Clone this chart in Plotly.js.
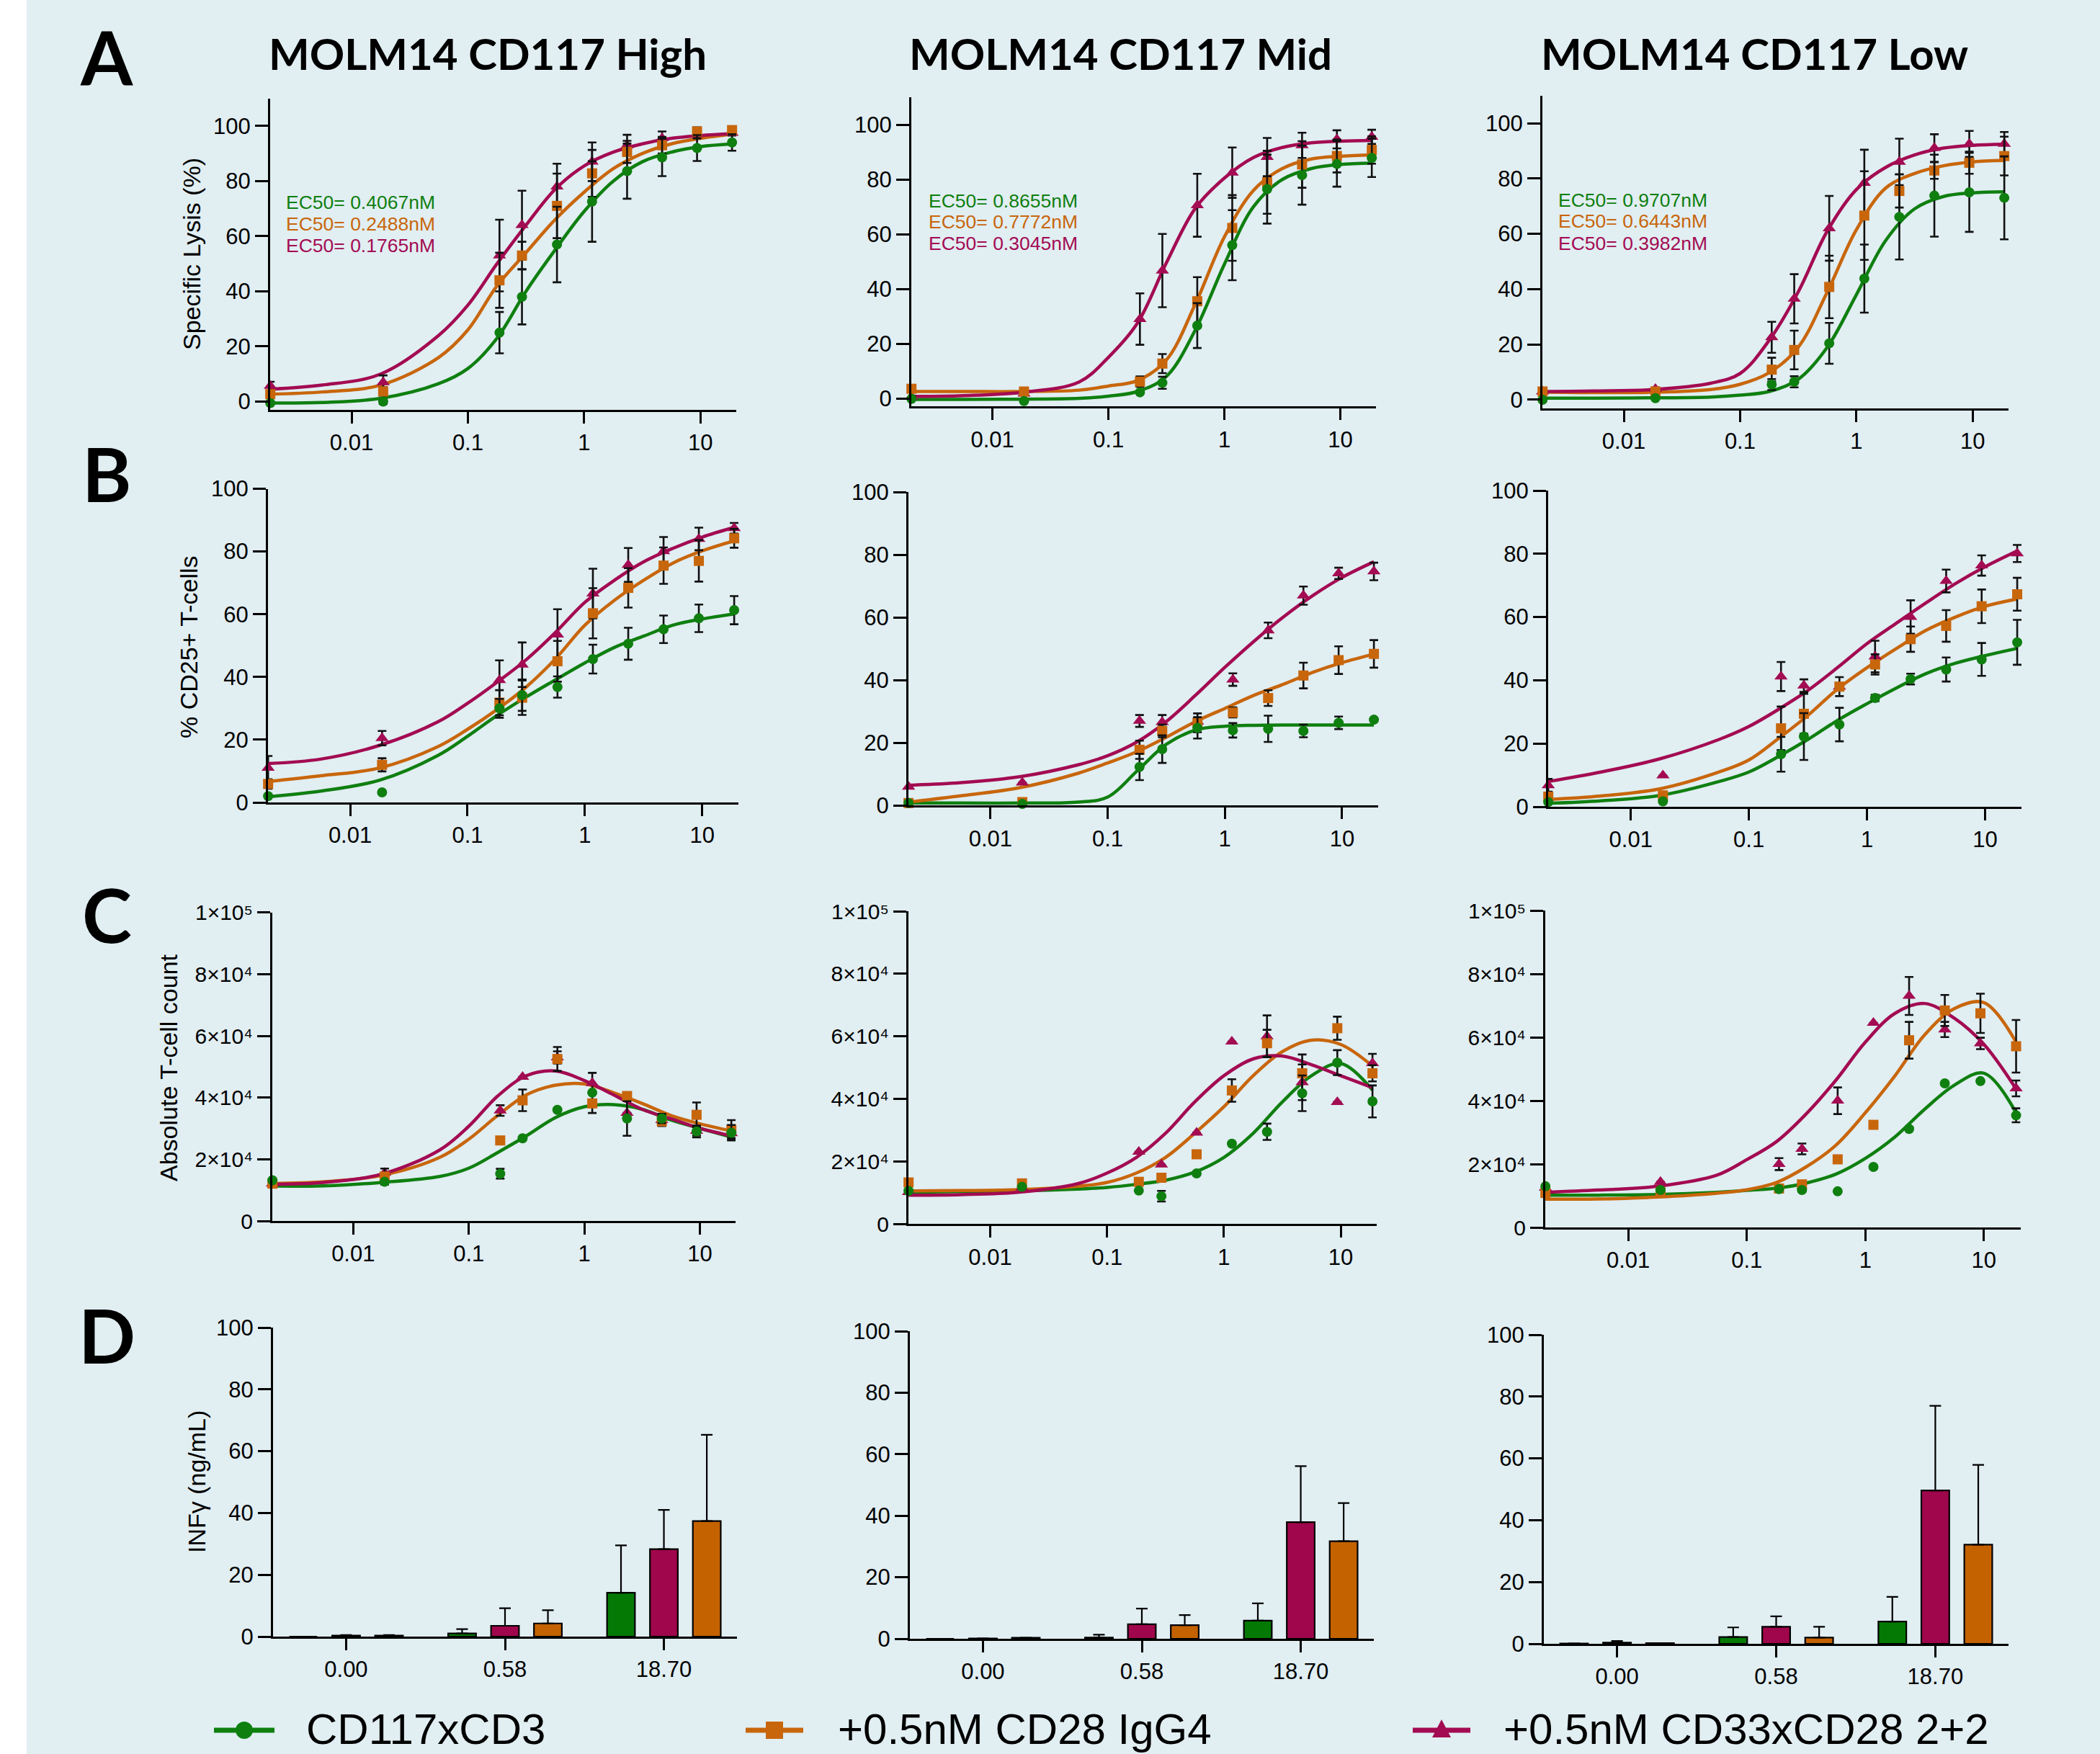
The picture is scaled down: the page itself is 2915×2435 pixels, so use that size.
<!DOCTYPE html>
<html>
<head>
<meta charset="utf-8">
<script src="https://cdn.plot.ly/plotly-3.0.1.min.js"></script>
<style>html,body{margin:0;padding:0;background:#ffffff;}</style>
</head>
<body>
<div id="chart" style="width:2915px;height:2435px;"></div>
<script>
// ---------------- DATA ----------------
const seriesNames = ['CD117xCD3', '+0.5nM CD28 IgG4', '+0.5nM CD33xCD28 2+2'];
const columnTitles = ['MOLM14 CD117 High', 'MOLM14 CD117 Mid', 'MOLM14 CD117 Low'];
const rowLetters = ['A', 'B', 'C', 'D'];
const rowYTitles = ['Specific Lysis (%)', '% CD25+ T-cells', 'Absolute T-cell count', 'INFγ (ng/mL)'];
const ec50High = ['EC50= 0.4067nM', 'EC50= 0.2488nM', 'EC50= 0.1765nM'];
const ec50Mid  = ['EC50= 0.8655nM', 'EC50= 0.7772nM', 'EC50= 0.3045nM'];
const ec50Low  = ['EC50= 0.9707nM', 'EC50= 0.6443nM', 'EC50= 0.3982nM'];

const logTickVals = [0.01, 0.1, 1, 10];
const logTickText = ['0.01', '0.1', '1', '10'];
const pctTickVals = [0, 20, 40, 60, 80, 100];
const pctTickText = ['0', '20', '40', '60', '80', '100'];
const countTickVals = [0, 20000, 40000, 60000, 80000, 100000];
const countTickText = ['0', '2×10⁴', '4×10⁴', '6×10⁴', '8×10⁴', '1×10⁵'];
const ifnCategories = ['0.00', '0.58', '18.70'];

// concentrations (nM) of measured points and of fitted-curve readings
const conc = [0.002, 0.0187, 0.187, 0.292, 0.584, 1.17, 2.34, 4.68, 9.35, 18.7];
const fitConc = [0.002, 0.0056, 0.0178, 0.056, 0.1, 0.178, 0.316, 0.562, 1, 1.78, 3.16, 5.62, 10, 18.7];

// A: Specific lysis (%)
const A_high_cd3 = [-0.5, 0, 25, 38, 57, 72.6, 83.6, 88.6, 92, 94];
const A_high_cd3_sd = [0.5, 0.8, 7.5, 10, 13.7, 14.6, 10, 6.8, 4.7, 3];
const A_high_cd3_fit = [-0.5, -0.3, 1.2, 6.5, 12, 23, 40, 55, 69, 80, 87, 90.5, 92.5, 93.5];
const A_high_igg4 = [2.7, 3.7, 44, 53, 71, 82.8, 90.6, 93, 98, 98.5];
const A_high_igg4_sd = [1, 1.5, 10, 5, 11.7, 8.5, 4, 3, 1.5, 1];
const A_high_igg4_fit = [2.7, 3.5, 6, 16, 26, 42, 54, 66, 76, 84.5, 90, 93.5, 95.5, 97];
const A_high_cd33 = [5.7, 7, 53, 64, 78, 87, 93, 95.5, 97, 97.5];
const A_high_cd33_sd = [1.5, 2.5, 13, 12.5, 8.3, 7, 3.8, 2.5, 1.5, 1];
const A_high_cd33_fit = [4.5, 6, 10, 24, 35, 50, 64, 77, 85.5, 90.5, 93.5, 95.5, 96.5, 97.2];

const A_mid_cd3 = [-0.2, -1, 2.2, 5.7, 26.6, 56, 76.5, 81.6, 85.7, 87.9];
const A_mid_cd3_sd = [0.5, 0.5, 0.5, 2.2, 8.2, 12.8, 12.6, 10.8, 8.3, 7];
const A_mid_cd3_fit = [-0.4, -0.4, -0.3, 0, 0.8, 2.5, 8, 25, 49, 70, 80, 84, 85.5, 86];
const A_mid_igg4 = [3.5, 2.5, 6.1, 12.7, 35.5, 62.3, 79, 85.5, 88.6, 90.8];
const A_mid_igg4_sd = [0.5, 0.5, 1.9, 3.5, 8.8, 12, 11.5, 8.5, 6, 5];
const A_mid_igg4_fit = [2.5, 2.5, 2.5, 3, 4.5, 6.5, 14, 34.5, 59, 76, 84, 87.5, 88.5, 89];
const A_mid_cd33 = [0.5, 1.7, 29, 46.7, 70.6, 82.5, 88.2, 92.5, 94.7, 95.6];
const A_mid_cd33_sd = [0.5, 0.5, 9.4, 13.4, 11.5, 9.2, 7, 4.6, 3.3, 2.6];
const A_mid_cd33_fit = [0.7, 1, 2.2, 6, 15, 27.5, 49.5, 69.5, 80.5, 88, 91.7, 93.4, 94, 94.3];

const A_low_cd3 = [0, 0.6, 5.5, 6.5, 20.4, 43.8, 66.1, 73.8, 75, 73];
const A_low_cd3_sd = [0.5, 0.5, 2, 2, 7.4, 12.3, 15.4, 14.8, 14.3, 15];
const A_low_cd3_fit = [0.6, 0.6, 0.7, 1, 1.7, 3, 7.4, 19, 38, 57.5, 69, 73.5, 74.8, 75.2];
const A_low_igg4 = [3, 3, 10.9, 18, 40.8, 66.6, 75.5, 82.9, 85.7, 88.1];
const A_low_igg4_sd = [0.5, 0.5, 4.3, 7, 11.3, 16, 6, 3, 4, 7];
const A_low_igg4_fit = [2.8, 2.6, 2.7, 3.7, 5.6, 9.8, 19, 39, 61.5, 76.5, 81.8, 84.6, 86, 86.5];
const A_low_cd33 = [3, 3.9, 22.6, 36.5, 62, 78.4, 86, 91, 92.5, 92.5];
const A_low_cd33_sd = [0.5, 0.5, 5.6, 8.9, 11.7, 12, 8.4, 5, 4.7, 4.3];
const A_low_cd33_fit = [3, 3.2, 3.7, 6, 9.5, 21.5, 39, 61, 76, 84, 88.5, 91, 92, 92.4];

// B: % CD25+ T-cells
const B_high_cd3 = [2, 3.2, 30, 34.2, 36.8, 45.7, 50.6, 55.2, 58.7, 61.3];
const B_high_cd3_sd = [0, 0, 3, 5, 3.4, 4.6, 5.1, 4.4, 4.4, 4.5];
const B_high_cd3_fit = [1.8, 3.6, 7.1, 15, 21.1, 27.7, 33.6, 39.1, 44.5, 49.4, 53, 56.5, 58.5, 60.1];
const B_high_igg4 = [5.9, 12, 31.8, 33.4, 45, 60.3, 68.4, 75.5, 77, 84.2];
const B_high_igg4_sd = [1.5, 2.1, 4, 5.5, 6.5, 8, 6.3, 5.8, 6.6, 3];
const B_high_igg4_fit = [6.7, 8.5, 11, 17.8, 23.3, 29.6, 36.8, 45.8, 56.5, 64.4, 70.8, 76.3, 80.2, 83.4];
const B_high_cd33 = [11, 20.5, 39, 43.9, 53.5, 66.6, 75.7, 80.1, 84, 87.4];
const B_high_cd33_sd = [3.8, 2.3, 6.3, 7.1, 8.1, 7.9, 5.4, 4.5, 3.6, 1.7];
const B_high_cd33_fit = [12.4, 13.8, 18.2, 25.7, 31.6, 38.3, 45.5, 54.2, 63.8, 70.8, 76.7, 81, 84.6, 87.7];

const B_mid_cd3 = [0.8, 0.5, 12.3, 18, 24.8, 24, 24.5, 23.8, 26.4, 27.4];
const B_mid_cd3_sd = [0, 0, 4.2, 4.4, 3.4, 2.3, 4.2, 2, 2, 0];
const B_mid_cd3_fit = [0.8, 0.8, 0.8, 1.1, 2.7, 11, 19.5, 24.1, 25.3, 25.6, 25.7, 25.7, 25.7, 25.7];
const B_mid_igg4 = [0.8, 1.1, 17.8, 23.8, 26.4, 29.7, 34.3, 41.5, 46.4, 48.4];
const B_mid_igg4_sd = [0, 0, 2.9, 2, 3, 1.6, 2.5, 4.1, 4.4, 4.4];
const B_mid_igg4_fit = [1.1, 3.1, 5.7, 10.3, 13.6, 17.2, 21.8, 26.8, 31, 35.2, 38.7, 42.5, 45.6, 48.3];
const B_mid_cd33 = [6, 7.3, 27, 26.6, 26.8, 40.2, 55.9, 67, 74.1, 74.7];
const B_mid_cd33_sd = [0, 0, 1.9, 2.3, 1, 2, 2.5, 2.9, 1.8, 2.8];
const B_mid_cd33_fit = [6.5, 7.3, 9.2, 13, 15.9, 20.3, 26.8, 35.2, 44.1, 52.5, 60.2, 67, 72.8, 77.8];

const B_low_cd3 = [1.5, 1.7, 16.6, 22.2, 26, 34.4, 40.4, 43.4, 46.6, 52];
const B_low_cd3_sd = [0, 0, 5.5, 7.4, 5.3, 1, 1.7, 3.8, 5.2, 7.1];
const B_low_cd3_fit = [1.1, 1.9, 3.6, 8, 11, 15.9, 21.3, 27.3, 32.6, 37.6, 42.1, 45.4, 47.8, 50.1];
const B_low_igg4 = [3.2, 3.6, 24.8, 29.4, 38, 45, 53, 57.2, 63.4, 67.2];
const B_low_igg4_sd = [0, 0, 6.9, 6.3, 3, 3.2, 4, 5, 5.3, 5.2];
const B_low_igg4_fit = [2.3, 3.4, 5.7, 11, 14.8, 21.6, 28.9, 37.2, 44, 50.1, 55.8, 60, 63.4, 65.7];
const B_low_cd33 = [6.8, 9.9, 41.2, 38.3, 38, 47.5, 60, 71.4, 76.3, 80.1];
const B_low_cd33_sd = [2, 0, 4.6, 2, 1, 5, 5.3, 3.6, 3.2, 2.7];
const B_low_cd33_fit = [8, 11, 15.2, 21.3, 25.4, 30.8, 36.8, 44, 51.6, 58.1, 64.5, 70.6, 75.9, 80.9];

// C: Absolute T-cell count
const C_high_cd3 = [13200, 12700, 15300, 26800, 36000, 41600, 33200, 33200, 29000, 28600];
const C_high_cd3_sd = [0, 0, 1600, 0, 0, 0, 5600, 1500, 1900, 2500];
const C_high_cd3_fit = [11300, 11400, 12500, 14400, 17100, 22200, 27600, 33500, 37000, 37700, 36200, 32700, 30000, 27200];
const C_high_igg4 = [12100, 14400, 26100, 39100, 52500, 38100, 40500, 32300, 34400, 29600];
const C_high_igg4_sd = [0, 2600, 0, 3500, 3900, 3100, 0, 1500, 4000, 3100];
const C_high_igg4_fit = [12100, 12700, 14800, 20600, 26500, 34200, 40900, 44000, 44400, 41600, 38100, 34200, 31500, 29200];
const C_high_cd33 = [12100, 15600, 35800, 46700, 53000, 44700, 35000, 32700, 29200, 28400];
const C_high_cd33_sd = [0, 0, 1700, 0, 2000, 3300, 0, 1500, 1500, 1500];
const C_high_cd33_fit = [11900, 12500, 15200, 23000, 30700, 40500, 47100, 48600, 45500, 40900, 36200, 33100, 30000, 27600];

const C_mid_cd3 = [10600, 11900, 10700, 8900, 16200, 25700, 29500, 41800, 51600, 39200];
const C_mid_cd3_sd = [0, 0, 0, 1700, 0, 0, 2600, 5700, 4000, 5100];
const C_mid_cd3_fit = [10200, 10400, 10600, 11200, 11700, 12700, 14000, 16600, 21300, 29000, 39000, 47400, 51300, 42800];
const C_mid_igg4 = [13300, 13000, 13500, 14800, 22300, 42700, 57800, 48200, 62600, 48200];
const C_mid_igg4_sd = [0, 0, 0, 0, 0, 3600, 4300, 6000, 3700, 2600];
const C_mid_igg4_fit = [10600, 10700, 11000, 12100, 13300, 16300, 21300, 29000, 37500, 47400, 55100, 58800, 57400, 50500];
const C_mid_cd33 = [10200, 11700, 23100, 19000, 29200, 58300, 60000, 45300, 39000, 51400];
const C_mid_cd33_sd = [0, 0, 0, 0, 0, 0, 6700, 5700, 0, 3000];
const C_mid_cd33_fit = [9200, 9400, 10200, 12900, 16300, 21300, 29000, 39000, 47400, 52800, 53700, 50900, 47400, 43600];

const C_low_cd3 = [13000, 11800, 12100, 11800, 11400, 19100, 31100, 45500, 46200, 35400];
const C_low_cd3_sd = [0, 0, 0, 0, 0, 0, 0, 0, 0, 2200];
const C_low_cd3_fit = [10200, 10200, 10400, 11100, 11700, 12400, 14000, 16800, 21800, 28600, 37300, 44900, 48700, 36200];
const C_low_igg4 = [10900, 11100, 12300, 13600, 21500, 32400, 59100, 68500, 67600, 57200];
const C_low_igg4_sd = [0, 0, 0, 0, 0, 0, 5800, 4900, 6200, 8300];
const C_low_igg4_fit = [8900, 9000, 9600, 10800, 11900, 14200, 19100, 25900, 36200, 47900, 60800, 69100, 71000, 58500];
const C_low_cd33 = [12500, 14400, 20000, 24800, 40000, 64600, 73100, 62500, 58100, 43900];
const C_low_cd33_sd = [0, 0, 1900, 1700, 4200, 0, 6000, 2400, 1800, 2500];
const C_low_cd33_fit = [11100, 11800, 13000, 16500, 21400, 27100, 35800, 46400, 58500, 67600, 70700, 66100, 57800, 43700];

// D: IFN-gamma (ng/mL) at 0.00, 0.58, 18.70 nM
const D_high_cd3 = [0, 1.0, 14.2];   const D_high_cd3_sd = [0, 1.4, 15.3];
const D_high_cd33 = [0.3, 3.5, 28.3]; const D_high_cd33_sd = [0.2, 5.7, 12.7];
const D_high_igg4 = [0.3, 4.25, 37.4]; const D_high_igg4_sd = [0.2, 4.3, 27.9];
const D_mid_cd3 = [0, 0.4, 5.9];     const D_mid_cd3_sd = [0, 0.9, 5.6];
const D_mid_cd33 = [0.1, 4.7, 37.9];  const D_mid_cd33_sd = [0, 5.1, 18.2];
const D_mid_igg4 = [0.3, 4.4, 31.7];  const D_mid_igg4_sd = [0, 3.3, 12.4];
const D_low_cd3 = [0.1, 2.2, 7.2];    const D_low_cd3_sd = [0, 3.1, 8];
const D_low_cd33 = [0.4, 5.5, 49.6];  const D_low_cd33_sd = [0.5, 3.4, 27.4];
const D_low_igg4 = [0.2, 2, 32.1];    const D_low_igg4_sd = [0, 3.5, 25.8];

// ---------------- STYLE / LAYOUT ----------------
const W = 2915, H = 2435;
const GREEN = '#0f7f10', ORANGE = '#c8660c', MAGENTA = '#a30b52';
const BAR_GREEN = '#047a04', BAR_ORANGE = '#c46200', BAR_MAGENTA = '#a0064c';
const BG = '#e1eef2';
const AXF = 'Liberation Sans, Arial, DejaVu Sans, sans-serif';
const TITLEF = 'Lato, Liberation Sans, sans-serif';

// pixel boxes of the 12 plotting areas: [x0, x1, yTop, yBottom]
const boxes = [
  [375, 1022, 136.6, 569], [1265, 1910, 135.3, 564.4], [2141, 2788, 132.6, 566.5],
  [372, 1025, 678.5, 1114], [1261, 1913, 683.3, 1118.3], [2149, 2806, 681, 1120],
  [378, 1021, 1266.7, 1695], [1261, 1911, 1265, 1699.3], [2145, 2804.5, 1264.3, 1704],
  [379, 1023, 1843, 2272], [1263, 1907, 1848, 2275], [2143, 2788, 1853, 2282]
];

const curvePanels = [
  [A_high_cd3, A_high_cd3_sd, A_high_cd3_fit, A_high_igg4, A_high_igg4_sd, A_high_igg4_fit, A_high_cd33, A_high_cd33_sd, A_high_cd33_fit],
  [A_mid_cd3, A_mid_cd3_sd, A_mid_cd3_fit, A_mid_igg4, A_mid_igg4_sd, A_mid_igg4_fit, A_mid_cd33, A_mid_cd33_sd, A_mid_cd33_fit],
  [A_low_cd3, A_low_cd3_sd, A_low_cd3_fit, A_low_igg4, A_low_igg4_sd, A_low_igg4_fit, A_low_cd33, A_low_cd33_sd, A_low_cd33_fit],
  [B_high_cd3, B_high_cd3_sd, B_high_cd3_fit, B_high_igg4, B_high_igg4_sd, B_high_igg4_fit, B_high_cd33, B_high_cd33_sd, B_high_cd33_fit],
  [B_mid_cd3, B_mid_cd3_sd, B_mid_cd3_fit, B_mid_igg4, B_mid_igg4_sd, B_mid_igg4_fit, B_mid_cd33, B_mid_cd33_sd, B_mid_cd33_fit],
  [B_low_cd3, B_low_cd3_sd, B_low_cd3_fit, B_low_igg4, B_low_igg4_sd, B_low_igg4_fit, B_low_cd33, B_low_cd33_sd, B_low_cd33_fit],
  [C_high_cd3, C_high_cd3_sd, C_high_cd3_fit, C_high_igg4, C_high_igg4_sd, C_high_igg4_fit, C_high_cd33, C_high_cd33_sd, C_high_cd33_fit],
  [C_mid_cd3, C_mid_cd3_sd, C_mid_cd3_fit, C_mid_igg4, C_mid_igg4_sd, C_mid_igg4_fit, C_mid_cd33, C_mid_cd33_sd, C_mid_cd33_fit],
  [C_low_cd3, C_low_cd3_sd, C_low_cd3_fit, C_low_igg4, C_low_igg4_sd, C_low_igg4_fit, C_low_cd33, C_low_cd33_sd, C_low_cd33_fit]
];
const barPanels = [
  [D_high_cd3, D_high_cd3_sd, D_high_cd33, D_high_cd33_sd, D_high_igg4, D_high_igg4_sd],
  [D_mid_cd3, D_mid_cd3_sd, D_mid_cd33, D_mid_cd33_sd, D_mid_igg4, D_mid_igg4_sd],
  [D_low_cd3, D_low_cd3_sd, D_low_cd33, D_low_cd33_sd, D_low_igg4, D_low_igg4_sd]
];

const sfx = i => (i === 0 ? '' : String(i + 1));
const traces = [];

// line + marker styles per series (cd3, igg4, cd33)
const lineColors = [GREEN, ORANGE, MAGENTA];
const symbols = ['circle', 'square', 'triangle-up'];
const msizes = [14, 14, 16];

curvePanels.forEach((p, i) => {
  const xa = 'x' + sfx(i), ya = 'y' + sfx(i);
  for (let s = 0; s < 3; s++) {
    traces.push({
      type: 'scatter', mode: 'lines', x: fitConc, y: p[s * 3 + 2], xaxis: xa, yaxis: ya,
      name: seriesNames[s] + ' fit',
      line: {color: lineColors[s], width: 4.5, shape: 'spline', smoothing: 1},
      showlegend: false, hoverinfo: 'skip', cliponaxis: false
    });
  }
  [2, 1, 0].forEach(s => {
    traces.push({
      type: 'scatter', mode: 'markers', x: conc, y: p[s * 3], xaxis: xa, yaxis: ya,
      name: seriesNames[s],
      marker: {symbol: symbols[s], size: msizes[s], color: lineColors[s]},
      error_y: {type: 'data', array: p[s * 3 + 1], visible: true, color: '#111', thickness: 2.6, width: 6},
      showlegend: false, cliponaxis: false
    });
  });
});

const barColors = [BAR_GREEN, BAR_MAGENTA, BAR_ORANGE];
const barNames = [seriesNames[0], seriesNames[2], seriesNames[1]];
barPanels.forEach((p, j) => {
  const i = 9 + j;
  for (let s = 0; s < 3; s++) {
    traces.push({
      type: 'bar', x: ifnCategories, y: p[s * 2], xaxis: 'x' + sfx(i), yaxis: 'y' + sfx(i),
      name: barNames[s],
      marker: {color: barColors[s], line: {color: '#000', width: 2.2}},
      error_y: {type: 'data', symmetric: false, array: p[s * 2 + 1], arrayminus: [0, 0, 0], visible: true, color: '#000', thickness: 2.2, width: 8},
      showlegend: false
    });
  }
});

const layout = {
  width: W, height: H,
  margin: {l: 0, r: 0, t: 0, b: 0},
  paper_bgcolor: BG, plot_bgcolor: 'rgba(0,0,0,0)',
  showlegend: false,
  barmode: 'group', bargap: 0.19, bargroupgap: 0.35,
  font: {family: AXF, color: '#000'},
  annotations: [], shapes: []
};

const axBase = {
  showline: true, linecolor: '#000', linewidth: 3, ticks: 'outside', tickcolor: '#000', tickwidth: 3,
  showgrid: false, zeroline: false, fixedrange: true
};

boxes.forEach((b, i) => {
  const [x0, x1, yt, yb] = b;
  const row = Math.floor(i / 3);
  const xa = Object.assign({}, axBase, {
    domain: [x0 / W, x1 / W], anchor: 'y' + sfx(i), ticklen: 16,
    tickfont: {family: AXF, size: 31, color: '#000'}
  });
  const ya = Object.assign({}, axBase, {
    domain: [1 - yb / H, 1 - yt / H], anchor: 'x' + sfx(i), ticklen: 18,
    tickfont: {family: AXF, size: 31, color: '#000'}
  });
  if (row < 3) {
    Object.assign(xa, {type: 'log', range: [-2.70, 1.308], tickmode: 'array', tickvals: logTickVals, ticktext: logTickText});
  } else {
    Object.assign(xa, {type: 'category', range: [-0.46, 2.46]});
  }
  if (row === 0) Object.assign(ya, {range: [-3, 110], tickmode: 'array', tickvals: pctTickVals, ticktext: pctTickText});
  if (row === 1 || row === 3) Object.assign(ya, {range: [0, 100], tickmode: 'array', tickvals: pctTickVals, ticktext: pctTickText});
  if (row === 2) Object.assign(ya, {range: [0, 100000], tickmode: 'array', tickvals: countTickVals, ticktext: countTickText,
                                    tickfont: {family: AXF, size: 30, color: '#000'}});
  layout['xaxis' + sfx(i)] = xa;
  layout['yaxis' + sfx(i)] = ya;
});

// white strip on the left edge
layout.shapes.push({type: 'rect', xref: 'paper', yref: 'paper', x0: 0, x1: 37 / W, y0: 0, y1: 1,
  fillcolor: '#ffffff', line: {width: 0}, layer: 'below'});

const fx = px => px / W, fy = py => 1 - py / H;
const ann = (txt, px, py, opts) => Object.assign({
  text: txt, xref: 'paper', yref: 'paper', x: fx(px), y: fy(py), showarrow: false,
  xanchor: 'center', yanchor: 'middle'
}, opts);

// column titles
const titleX = [677, 1555, 2435];
columnTitles.forEach((t, c) => layout.annotations.push(ann(t, titleX[c], 74,
  {font: {family: TITLEF, size: 60, color: '#000', weight: 700}})));
// row letters
const letterY = [78, 656, 1268, 1852];
rowLetters.forEach((t, r) => layout.annotations.push(ann(t, 148, letterY[r],
  {font: {family: TITLEF, size: 104, color: '#000', weight: 700}})));
// y titles (first column)
const yTitlePos = [[266, 353], [262, 898], [234, 1482], [273, 2057]];
rowYTitles.forEach((t, r) => layout.annotations.push(ann(t, yTitlePos[r][0], yTitlePos[r][1],
  {textangle: -90, font: {family: AXF, size: 34, color: '#000'}})));
// EC50 labels
const ecSets = [ec50High, ec50Mid, ec50Low];
const ecX = [395, 1287, 2161];
const ecY = [[281, 311, 340.6], [279, 308, 337.7], [278, 307, 338]];
const ecColors = [GREEN, ORANGE, MAGENTA];
ecSets.forEach((set, c) => set.forEach((t, k) => layout.annotations.push(ann(t, ecX[c], ecY[c][k],
  {xanchor: 'left', font: {family: AXF, size: 26.5, color: ecColors[k]}}))));

// legend (key symbols + labels along the bottom)
const legLineX = [[297, 381], [1035, 1115], [1961, 2041]];
const legTextX = [424, 1162, 2086];
const legY = 2402, mk = 12;
for (let s = 0; s < 3; s++) {
  const [a, b] = legLineX[s];
  const cx = (a + b) / 2;
  layout.shapes.push({type: 'line', xref: 'paper', yref: 'paper', x0: fx(a), x1: fx(b), y0: fy(legY), y1: fy(legY),
    line: {color: lineColors[s], width: 7}});
  if (s === 0) {
    layout.shapes.push({type: 'circle', xref: 'paper', yref: 'paper', x0: fx(cx - mk), x1: fx(cx + mk),
      y0: fy(legY + mk), y1: fy(legY - mk), fillcolor: lineColors[s], line: {width: 0}});
  } else if (s === 1) {
    layout.shapes.push({type: 'rect', xref: 'paper', yref: 'paper', x0: fx(cx - mk), x1: fx(cx + mk),
      y0: fy(legY + mk), y1: fy(legY - mk), fillcolor: lineColors[s], line: {width: 0}});
  } else {
    const path = 'M' + fx(cx) + ',' + fy(legY - 15) + ' L' + fx(cx - 13) + ',' + fy(legY + 10) +
                 ' L' + fx(cx + 13) + ',' + fy(legY + 10) + ' Z';
    layout.shapes.push({type: 'path', xref: 'paper', yref: 'paper', path: path, fillcolor: lineColors[s], line: {width: 0}});
  }
  layout.annotations.push({text: seriesNames[s], xref: 'paper', yref: 'paper', x: fx(legTextX[s]), y: 0,
    xanchor: 'left', yanchor: 'bottom', showarrow: false, borderpad: 0,
    font: {family: AXF, size: 60, color: '#000'}});
}

Plotly.newPlot('chart', traces, layout, {staticPlot: true, displayModeBar: false});
</script>
</body>
</html>
